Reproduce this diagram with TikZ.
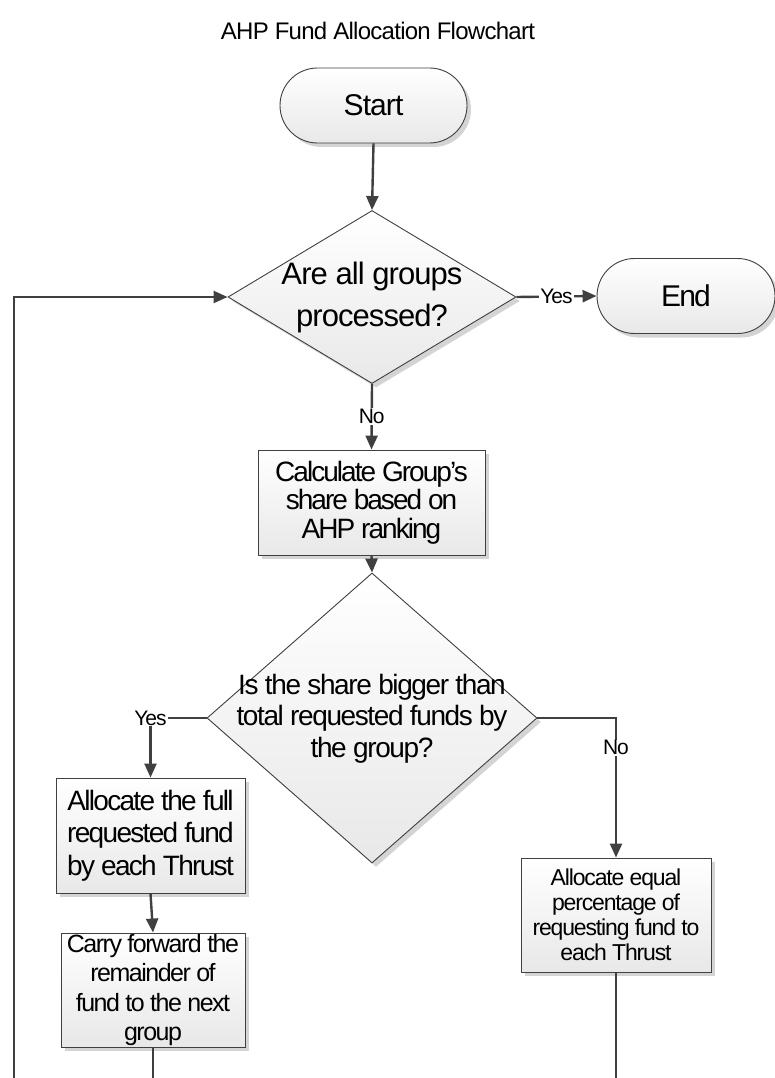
\documentclass[tikz,border=0pt]{standalone}
\usepackage{fontspec}
\setmainfont{Liberation Sans}
\usetikzlibrary{shapes.geometric,arrows.meta,shadows}

\definecolor{linec}{HTML}{404040}
\definecolor{fillbot}{HTML}{E8E8E8}
\definecolor{shadowc}{HTML}{D4D4D4}

% size, line distance, letter spacing
\newcommand{\tf}[3]{\fontsize{#1}{#2}\selectfont\addfontfeature{LetterSpace=#3}}

\tikzset{
  boxfill/.style={top color=white, bottom color=fillbot, draw=linec, line width=0.9pt,
    drop shadow={shadow xshift=4pt, shadow yshift=-4pt, fill=shadowc, opacity=1}},
  terminal/.style={boxfill, rectangle, rounded corners=37.5pt,
    minimum height=75pt, inner sep=0pt},
  decision/.style={boxfill, diamond, inner sep=0pt},
  procbox/.style={boxfill, rectangle, inner sep=0pt, align=center},
  qtext/.style={align=center, inner sep=0pt},
  conn/.style={draw=linec, line width=2.4pt, -{Triangle[length=14pt,width=12pt]}},
  plainconn/.style={draw=linec, line width=2.4pt},
  lbl/.style={fill=white, inner sep=1pt, font=\tf{21}{23}{-5}}
}

\begin{document}
\begin{tikzpicture}[x=1pt, y=-1pt]
  \useasboundingbox (0,0) rectangle (775,1078);

  % heading
  \node (title) at (378,31) {\tf{24}{26}{-3}AHP Fund Allocation Flowchart};

  % terminals
  \node[terminal, minimum width=187pt] (start) at (373.5,105.5) {\tf{30}{32}{-3}Start};
  \node[terminal, minimum width=178pt] (end) at (686,296) {\tf{30}{32}{-6}End};

  % first decision
  \node[decision, minimum width=288pt, minimum height=173pt] (q1) at (372,297) {};
  \node[qtext, font=\tf{31}{42}{-3}] (q1t) at (372,297) {Are all groups\\processed?};

  % share calculation
  \node[procbox, minimum width=227pt, minimum height=105pt, font=\tf{28}{28.5}{-7}]
    (calc) at (371.5,502.5) {Calculate Group’s\\share based on\\AHP ranking};

  % second decision
  \node[decision, minimum width=330pt, minimum height=290pt] (q2) at (372,718) {};
  \node[qtext, font=\tf{28}{31.5}{-5}] (q2t) at (372,718.5)
    {Is the share bigger than\\total requested funds by\\the group?};

  % allocation boxes
  \node[procbox, minimum width=189pt, minimum height=115pt, font=\tf{28}{32.5}{-6}]
    (full) at (150.5,835.5) {Allocate the full\\requested fund\\by each Thrust};
  \node[procbox, minimum width=184pt, minimum height=114pt, font=\tf{25}{29.5}{-6}]
    (carry) at (153,990) {Carry forward the\\remainder of\\fund to the next\\group};
  \node[procbox, minimum width=190pt, minimum height=114pt, font=\tf{23}{25}{-5}]
    (equal) at (616,915) {Allocate equal\\percentage of\\requesting fund to\\each Thrust};

  % loose ends at the lower edge
  \coordinate (loopbot) at (14,1078);
  \coordinate (carrybot) at (153,1078);
  \coordinate (equalbot) at (616,1078);

  % connectors
  \draw[conn] (start.south) -- (q1.north);
  \draw[conn] (q1.east) -- node[lbl] (yes1) {Yes} (end.west);
  \draw[conn] (q1.south) -- node[lbl] (no1) {No} (calc.north);
  \draw[conn] (calc.south) -- (q2.north);
  \draw[conn] (q2.west) -| node[lbl, pos=0.5] (yes2) {Yes} (full.north);
  \draw[conn] (q2.east) -| node[lbl, pos=0.607] (no2) {No} (equal.north);
  \draw[conn] (full.south) -- (carry.north);
  \draw[plainconn] (carry.south) -- (carrybot);
  \draw[plainconn] (equal.south) -- (equalbot);
  \draw[conn] (loopbot) |- (q1.west);
\end{tikzpicture}
\end{document}
